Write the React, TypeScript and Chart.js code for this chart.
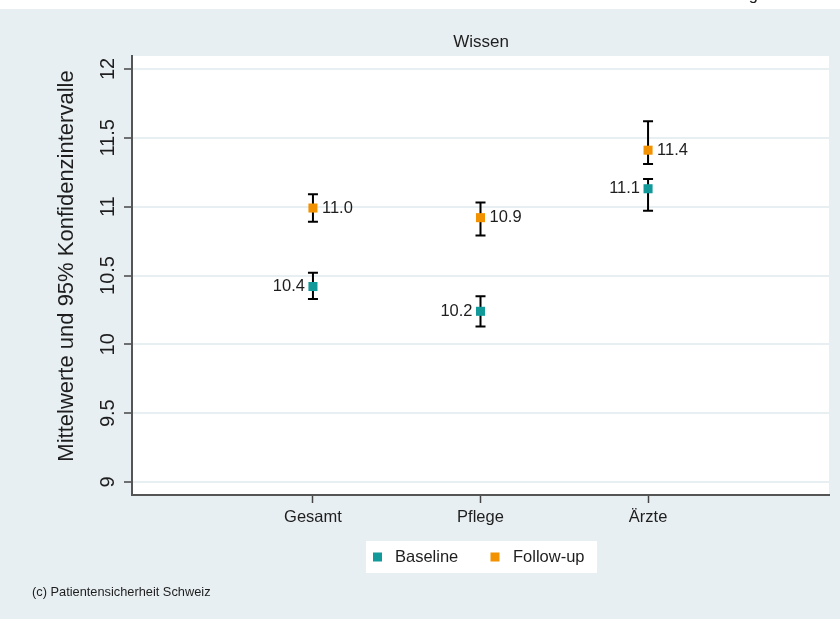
import { useEffect, useRef } from 'react';
import { Chart, registerables } from 'chart.js';

Chart.register(...registerables);

const categories = ['Gesamt', 'Pflege', 'Ärzte'];
const seriesNames = ['Baseline', 'Follow-up'];
const baselineMean = [10.42, 10.24, 11.13];
const baselineLower = [10.33, 10.13, 10.97];
const baselineUpper = [10.52, 10.35, 11.2];
const followMean = [10.99, 10.92, 11.41];
const followLower = [10.89, 10.79, 11.31];
const followUpper = [11.09, 11.03, 11.62];
const baselineLabels = ['10.4', '10.2', '11.1'];
const followLabels = ['11.0', '10.9', '11.4'];
const yTicks = [9, 9.5, 10, 10.5, 11, 11.5, 12];
const yTickLabels = ['9', '9.5', '10', '10.5', '11', '11.5', '12'];
const panelTitle = 'Wissen';
const yTitle = 'Mittelwerte und 95% Konfidenzintervalle';
const footer = '(c) Patientensicherheit Schweiz';

const FONT = '"Liberation Sans", Arial, Helvetica, sans-serif';
const TEAL = '#12999a';
const ORANGE = '#f39200';
const BG = '#e8eff2';
const TEXT = '#1e1e1e';

export default function App() {
  const ref = useRef<HTMLCanvasElement | null>(null);

  useEffect(() => {
    if (!ref.current) return;

    const bgPlugin = {
      id: 'bgPlugin',
      beforeDraw(chart: any) {
        const { ctx, chartArea: a } = chart;
        ctx.save();
        ctx.fillStyle = '#ffffff';
        ctx.fillRect(0, 0, chart.width, chart.height);
        ctx.fillStyle = BG;
        ctx.fillRect(0, 9, chart.width, chart.height - 9);
        ctx.fillStyle = '#ffffff';
        ctx.fillRect(a.left, a.top, a.right - a.left, a.bottom - a.top);
        // cut-off title descender at very top
        ctx.fillStyle = TEXT;
        ctx.font = `16.5px ${FONT}`;
        ctx.textAlign = 'right';
        ctx.textBaseline = 'alphabetic';
        ctx.fillText('g', 758, 0);
        ctx.restore();
      },
    };

    const errPlugin = {
      id: 'errPlugin',
      beforeDatasetsDraw(chart: any) {
        const { ctx } = chart;
        const xs = chart.scales.x;
        const ys = chart.scales.y;
        const sets = [
          [baselineLower, baselineUpper],
          [followLower, followUpper],
        ];
        ctx.save();
        ctx.strokeStyle = '#000';
        ctx.lineWidth = 2;
        sets.forEach(([lo, hi]) => {
          lo.forEach((l, i) => {
            const x = xs.getPixelForValue(i + 1);
            const y1 = ys.getPixelForValue(l);
            const y2 = ys.getPixelForValue(hi[i]);
            ctx.beginPath();
            ctx.moveTo(x, y1);
            ctx.lineTo(x, y2);
            ctx.moveTo(x - 5, y1);
            ctx.lineTo(x + 5, y1);
            ctx.moveTo(x - 5, y2);
            ctx.lineTo(x + 5, y2);
            ctx.stroke();
          });
        });
        ctx.restore();
      },
    };

    const textPlugin = {
      id: 'textPlugin',
      afterDraw(chart: any) {
        const { ctx } = chart;
        const xs = chart.scales.x;
        const ys = chart.scales.y;
        ctx.save();
        ctx.fillStyle = TEXT;
        ctx.font = `16.5px ${FONT}`;
        ctx.textBaseline = 'middle';
        // data labels
        baselineMean.forEach((v, i) => {
          ctx.textAlign = 'right';
          ctx.fillText(baselineLabels[i], xs.getPixelForValue(i + 1) - 8, ys.getPixelForValue(v));
        });
        followMean.forEach((v, i) => {
          ctx.textAlign = 'left';
          ctx.fillText(followLabels[i], xs.getPixelForValue(i + 1) + 9, ys.getPixelForValue(v));
        });
        // y tick labels rotated
        ctx.font = `20px ${FONT}`;
        yTicks.forEach((v, i) => {
          ctx.save();
          ctx.translate(108, ys.getPixelForValue(v));
          ctx.rotate(-Math.PI / 2);
          ctx.textAlign = 'center';
          ctx.fillText(yTickLabels[i], 0, 0);
          ctx.restore();
        });
        // y title
        ctx.save();
        ctx.font = `22px ${FONT}`;
        ctx.translate(67, 266);
        ctx.rotate(-Math.PI / 2);
        ctx.textAlign = 'center';
        ctx.fillText(yTitle, 0, 0);
        ctx.restore();
        // panel title
        ctx.font = `17px ${FONT}`;
        ctx.textAlign = 'center';
        ctx.fillText(panelTitle, 481, 42);
        // legend
        ctx.font = `16.5px ${FONT}`;
        ctx.fillStyle = '#ffffff';
        ctx.fillRect(366, 541, 231, 32);
        ctx.fillStyle = TEAL;
        ctx.fillRect(373, 552.5, 9, 9);
        ctx.fillStyle = ORANGE;
        ctx.fillRect(490.5, 552.5, 9, 9);
        ctx.fillStyle = TEXT;
        ctx.textAlign = 'left';
        ctx.fillText(seriesNames[0], 395, 557);
        ctx.fillText(seriesNames[1], 513, 557);
        // footer
        ctx.font = `12.8px ${FONT}`;
        ctx.fillText(footer, 32, 592);
        ctx.restore();
      },
    };

    const chart = new Chart(ref.current, {
      type: 'scatter',
      data: {
        datasets: [
          {
            label: seriesNames[0],
            data: baselineMean.map((v, i) => ({ x: i + 1, y: v })),
            backgroundColor: TEAL,
            borderWidth: 0,
            pointStyle: 'rect',
            pointRadius: 6.4,
          },
          {
            label: seriesNames[1],
            data: followMean.map((v, i) => ({ x: i + 1, y: v })),
            backgroundColor: ORANGE,
            borderWidth: 0,
            pointStyle: 'rect',
            pointRadius: 6.4,
          },
        ],
      },
      options: {
        responsive: false,
        animation: false,
        events: [],
        layout: { padding: { top: 56, right: 11, left: 0, bottom: 0 } },
        plugins: {
          legend: { display: false },
          title: { display: false },
          tooltip: { enabled: false },
        },
        scales: {
          x: {
            type: 'linear',
            min: -0.08,
            max: 4.08,
            afterBuildTicks: (s: any) => {
              s.ticks = [1, 2, 3].map((v) => ({ value: v }));
            },
            afterFit: (s: any) => {
              s.height = 124;
            },
            ticks: {
              callback: (v: any) => categories[Number(v) - 1] ?? '',
              font: { family: FONT, size: 16.5 },
              color: TEXT,
              padding: 5,
              autoSkip: false,
              maxRotation: 0,
              minRotation: 0,
            },
            grid: {
              drawOnChartArea: false,
              drawTicks: true,
              tickLength: 8,
              tickColor: '#444',
              tickWidth: 1.5,
            },
            border: { display: true, color: '#555', width: 2 },
          },
          y: {
            type: 'linear',
            min: 8.906,
            max: 12.094,
            afterBuildTicks: (s: any) => {
              s.ticks = yTicks.map((v) => ({ value: v }));
            },
            afterFit: (s: any) => {
              s.width = 132;
            },
            ticks: { display: false },
            grid: {
              color: '#e8eff2',
              lineWidth: 2,
              drawTicks: true,
              tickLength: 8,
              tickColor: '#444',
              tickWidth: 1.5,
            },
            border: { display: true, color: '#555', width: 2 },
          },
        },
      },
      plugins: [bgPlugin, errPlugin, textPlugin],
    } as any);

    return () => chart.destroy();
  }, []);

  return (
    <div style={{ position: 'absolute', left: 0, top: 0, width: 840, height: 619 }}>
      <canvas ref={ref} width={840} height={619} />
    </div>
  );
}
